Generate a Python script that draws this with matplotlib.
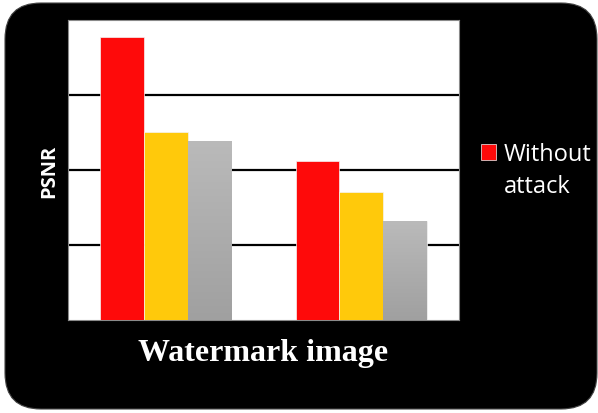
import matplotlib
matplotlib.use("Agg")
import matplotlib.pyplot as plt
import numpy as np
from matplotlib.patches import FancyBboxPatch
from matplotlib.colors import LinearSegmentedColormap

# Data (PSNR; axis 0-40 with gridlines every 10)
categories = ["Image 1", "Image 2"]
series_names = ["Without attack", "Attack 1", "Attack 2"]
without_attack = [37.7, 21.2]
attack_1 = [25.1, 17.1]
attack_2 = [23.9, 13.2]

W, H = 598, 414
fig = plt.figure(figsize=(W / 100, H / 100), dpi=100, facecolor="white")

# black rounded background
bg = FancyBboxPatch((5 / W, 4 / H), (592 / W), (406 / H),
                    boxstyle="round,pad=0,rounding_size=0.06",
                    transform=fig.transFigure, facecolor="black",
                    edgecolor="#444444", linewidth=0.8,
                    mutation_aspect=W / H, zorder=-10)
fig.patches.append(bg)

ax = fig.add_axes([68 / W, (H - 321) / H, 391 / W, 300 / H])
ax.set_facecolor("white")

x = np.arange(len(categories))
bw = 0.2236
colors = ["#fe0a0a", "#ffc90b", "#b5b5b5"]
series = [without_attack, attack_1, attack_2]

containers = []
for i, (vals, c, name) in enumerate(zip(series, colors, series_names)):
    bc = ax.bar(x + (i - 1) * bw, vals, width=bw, color=c, label=name,
                edgecolor="#f4f4f4", linewidth=0.5, zorder=3)
    containers.append(bc)

# gradient fill on gray bars
grad = np.linspace(0, 1, 256).reshape(-1, 1)
cmap = LinearSegmentedColormap.from_list("g", ["#a0a0a0", "#bababa"])
for rect in containers[2]:
    x0, y0 = rect.get_x(), rect.get_y()
    w, h = rect.get_width(), rect.get_height()
    im = ax.imshow(grad, extent=[x0, x0 + w, y0, y0 + h], origin="lower",
                   cmap=cmap, aspect="auto", zorder=3.5)
    im.set_clip_path(rect)

ax.set_xlim(-0.5, 1.5)
ax.set_ylim(0, 40)
ax.set_yticks([10, 20, 30])
ax.set_xticks([])
ax.tick_params(axis="y", length=0, labelleft=False)
ax.grid(axis="y", color="black", linewidth=1.6, zorder=1)
for s in ax.spines.values():
    s.set_color("#8a8a8a")
    s.set_linewidth(0.8)

fig.text(49.5 / W, (H - 171.5) / H, "PSNR", rotation=90, color="white",
         fontsize=14.5, fontweight="bold", family="Open Sans",
         ha="center", va="center")
fig.text(263 / W, (H - 354) / H, "Watermark image", color="white",
         fontsize=23, fontweight="bold", family="Liberation Serif",
         ha="center", va="center")

leg = fig.legend(handles=[containers[0]], labels=["Without"],
                 loc="upper left", bbox_to_anchor=(481 / W, (H - 143) / H),
                 frameon=False, labelcolor="white",
                 prop={"family": "Open Sans", "size": 17},
                 handlelength=0.64, handleheight=0.64, handletextpad=0.3,
                 borderaxespad=0, borderpad=0)
fig.text(503.5 / W, (H - 193) / H, "attack", color="white",
         family="Open Sans", fontsize=17, ha="left", va="baseline")

fig.savefig("out.png", dpi=100, facecolor="white")
